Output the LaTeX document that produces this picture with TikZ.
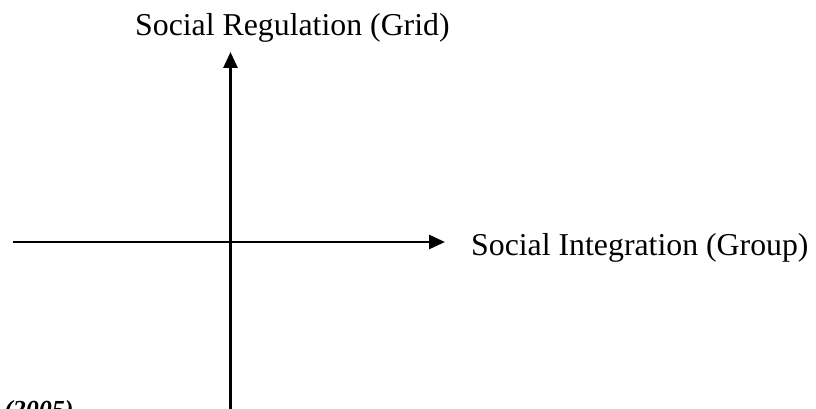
\documentclass[tikz,border=0pt]{standalone}
\usepackage{fontspec}
\setmainfont{Liberation Serif}
\usetikzlibrary{arrows.meta}
\begin{document}
\begin{tikzpicture}[x=1pt,y=-1pt,
  axis/.style={line width=2.8pt,-{Triangle[length=16pt,width=14pt]}},
  axislabel/.style={anchor=base west,inner sep=0pt,font=\fontsize{31.8}{36}\selectfont},
  note/.style={anchor=base west,inner sep=0pt,font=\fontsize{26}{30}\selectfont\bfseries\itshape}]
\useasboundingbox (0,0) rectangle (816,409);
\clip (0,0) rectangle (816,409);
\coordinate (ybottom) at (230.5,420);
\coordinate (ytop) at (230.5,52);
\coordinate (xleft) at (13,242);
\coordinate (xright) at (445,242);
\draw[axis] (ybottom) -- (ytop);
\draw[axis] (xleft) -- (xright);
\node[axislabel] (grid) at (135,36) {Social Regulation (Grid)};
\node[axislabel] (group) at (471,255) {Social Integration (Group)};
\node[note] (year) at (4,418) {(2005)};
\end{tikzpicture}
\end{document}
